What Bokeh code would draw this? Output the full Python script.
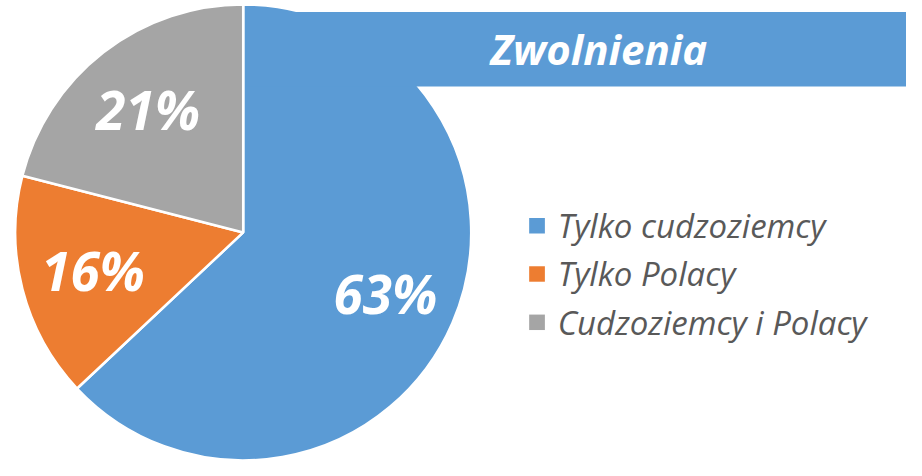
import numpy as np
from bokeh.plotting import figure
from bokeh.models import Range1d
from bokeh.core.properties import value
from bokeh.embed import file_html
from bokeh.resources import INLINE

categories = ["Tylko cudzoziemcy", "Tylko Polacy", "Cudzoziemcy i Polacy"]
shares = [63, 16, 21]
colors = ["#5B9BD5", "#ED7D31", "#A5A5A5"]
title_text = "Zwolnienia"

W, H = 906, 460
# coordinate system: x = reference px, y = 476 - reference py
p = figure(width=W, height=H, output_backend="svg", toolbar_location=None,
           x_range=Range1d(0, 922), y_range=Range1d(0, 476),
           min_border=0)
p.axis.visible = False
p.grid.visible = False
p.outline_line_color = None
p.background_fill_color = "white"

cx, cy, R = 247, 476 - 240, 232
vals = np.array(shares, dtype=float)
frac = vals / vals.sum()
cum_end = np.cumsum(frac)
cum_start = cum_end - frac
start = np.pi / 2 - cum_end * 2 * np.pi
end = np.pi / 2 - cum_start * 2 * np.pi
p.wedge(x=cx, y=cy, radius=R, start_angle=start, end_angle=end,
        fill_color=colors, line_color="white", line_width=2.5)

# title banner
p.quad(left=[250], right=[940], bottom=[476 - 89], top=[476 - 12],
       fill_color=colors[0], line_color=None)
p.text(x=[609], y=[476 - 50], text=[title_text], text_color="white",
       text_font=value("Open Sans"), text_font_style="bold italic",
       text_font_size="42px", text_align="center", text_baseline="middle")

# percent labels
mid = (start + end) / 2
lr = 0.68 * R
lx = cx + lr * np.cos(mid)
ly = cy + lr * np.sin(mid) * (906 / 922) / (460 / 476)
labels = [f"{int(v)}%" for v in shares]
p.text(x=lx, y=ly, text=labels, text_color="white",
       text_font=value("Open Sans"), text_font_style="bold italic",
       text_font_size="53px", text_align="center", text_baseline="middle")

# legend
ly0 = 476 - 233
leg_y = [ly0 - 50 * i for i in range(len(categories))]
p.rect(x=[546] * 3, y=leg_y, width=16, height=16, fill_color=colors, line_color=None)
p.text(x=[567] * 3, y=leg_y, text=categories, text_color="#595959",
       text_font=value("Open Sans"), text_font_style="italic",
       text_font_size="33px", text_align="left", text_baseline="middle")

open("out.html", "w").write(file_html(p, INLINE))
